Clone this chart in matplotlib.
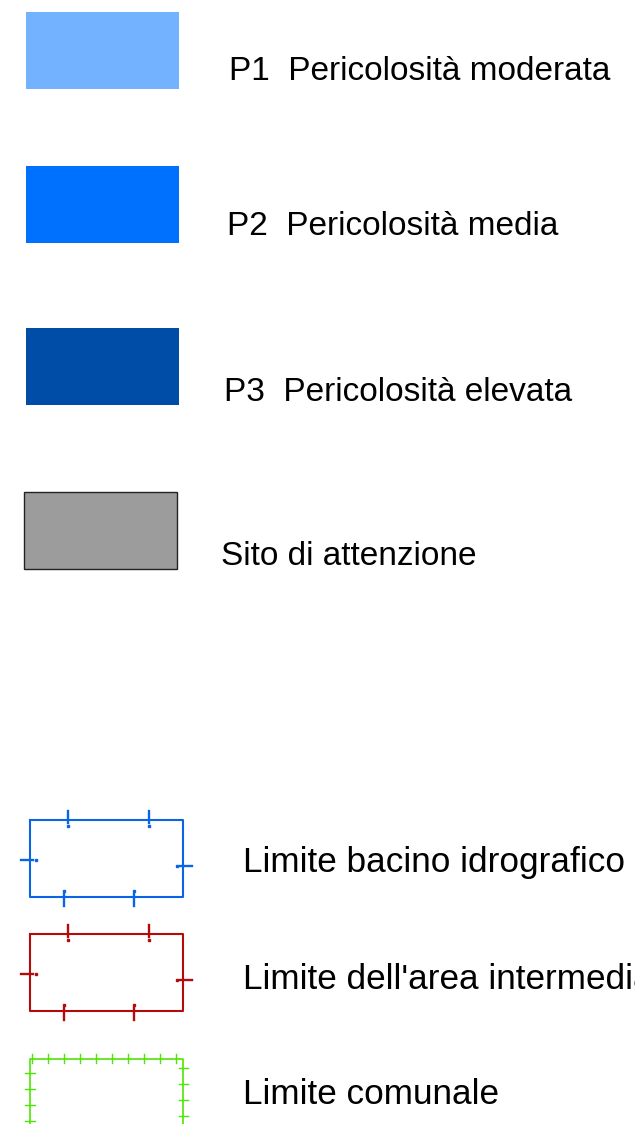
import matplotlib
matplotlib.use("Agg")
import matplotlib.pyplot as plt
from matplotlib.patches import Rectangle

plt.rcParams['font.family'] = ['Liberation Sans', 'DejaVu Sans']

W, H = 635, 1124

# legend entries: filled areas
area_labels = ["P1  Pericolosità moderata", "P2  Pericolosità media",
               "P3  Pericolosità elevata", "Sito di attenzione"]
area_colors = ["#73b2ff", "#0070ff", "#004da8", "#9c9c9c"]
area_edges = ["none", "none", "none", "#222222"]
area_box_x = [26, 26, 26, 24]
area_box_y = [12, 166, 328, 492]
area_text_x = [229, 227, 224, 221]
area_text_y = [80, 235, 401, 565]   # baselines

# legend entries: boundary lines
line_labels = ["Limite bacino idrografico", "Limite dell'area intermedia", "Limite comunale"]
line_colors = ["#0a64e6", "#b40a0a", "#4ce600"]
line_box_y = [820, 934, 1059]
line_text_y = [872, 989, 1104]      # baselines

box_w, box_h = 153, 77
lbox_x0, lbox_x1, lbox_h = 30, 183, 77

fig = plt.figure(figsize=(W / 100, H / 100), dpi=100)
ax = fig.add_axes([0, 0, 1, 1])
ax.set_xlim(0, W)
ax.set_ylim(H, 0)
ax.axis('off')

for lab, c, ec, bx, by, tx, ty in zip(area_labels, area_colors, area_edges,
                                      area_box_x, area_box_y, area_text_x, area_text_y):
    ax.add_patch(Rectangle((bx, by), box_w, box_h, facecolor=c, edgecolor=ec, lw=1))
    ax.text(tx, ty, lab, fontsize=24, va='baseline', ha='left', color='black')


def dash_dot_tick(x, y, orient, inward, c):
    # tick crossing the edge plus a dot on the inside
    if orient == 'v':
        ax.plot([x, x], [y - 9 * inward, y + 3 * inward], color=c, lw=1.7)
        ax.plot([x], [y + 6 * inward], marker='s', ms=1.5, color=c)
    else:
        ax.plot([x - 9 * inward, x + 3 * inward], [y, y], color=c, lw=1.7)
        ax.plot([x + 6 * inward], [y], marker='s', ms=1.5, color=c)


for i in range(2):
    c = line_colors[i]
    y0 = line_box_y[i]
    y1 = y0 + lbox_h
    ax.plot([lbox_x0, lbox_x1, lbox_x1, lbox_x0, lbox_x0], [y0, y0, y1, y1, y0], color=c, lw=1.5)
    for tx in [68, 149]:
        dash_dot_tick(tx, y0, 'v', 1, c)
    for tx in [64, 134]:
        dash_dot_tick(tx, y1, 'v', -1, c)
    dash_dot_tick(lbox_x0, y0 + 40, 'h', 1, c)
    dash_dot_tick(lbox_x1, y0 + 46, 'h', -1, c)
    ax.text(243, line_text_y[i], line_labels[i], fontsize=25.3, va='baseline', ha='left')

# comunale: open box cut by the bottom of the image
c = line_colors[2]
y0 = line_box_y[2]
ax.plot([lbox_x0, lbox_x0, lbox_x1, lbox_x1], [H + 5, y0, y0, H + 5], color=c, lw=1.2)
for k in range(10):
    tx = 32 + 16 * k
    ax.plot([tx, tx], [y0 - 5, y0 + 4], color=c, lw=1.0)
for k in range(4):
    ty = y0 + 14 + 16 * k
    ax.plot([lbox_x0 - 5, lbox_x0 + 5], [ty, ty], color=c, lw=1.0)
    ty = y0 + 9 + 16 * k
    ax.plot([lbox_x1 - 4, lbox_x1 + 5], [ty, ty], color=c, lw=1.0)
ax.text(243, line_text_y[2], line_labels[2], fontsize=25.3, va='baseline', ha='left')

fig.savefig("out.png", dpi=100)
